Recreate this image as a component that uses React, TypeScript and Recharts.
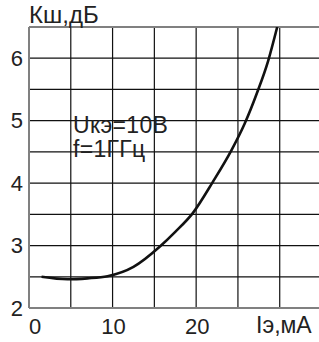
import { LineChart, Line, XAxis, YAxis, ReferenceLine } from "recharts";

// Iэ, мА
const CURRENT = [1.5, 4.6, 7.0, 9.4, 12.5, 15.7, 17.5, 19.6, 22.0, 24.2, 25.8, 27.3, 28.6, 29.7];
// Кш, дБ
const NOISE = [2.5, 2.46, 2.475, 2.51, 2.66, 2.99, 3.22, 3.52, 4.02, 4.52, 4.95, 5.45, 5.95, 6.5];

const X_TICKS = [0, 10, 20];
const Y_TICKS = [2, 3, 4, 5, 6];
const GRID_X = [5, 10, 15, 20, 25, 30];
const GRID_Y = [2.5, 3, 3.5, 4, 4.5, 5, 5.5, 6];

const data = CURRENT.map((x, i) => ({ x, y: NOISE[i] }));

const FONT = "'Liberation Sans', Arial, sans-serif";
const AXIS_GREY = "#808080";

const XTick = ({ x, y, payload }: any) => (
  <text x={x + (payload.value === 0 ? 6 : 1)} y={y} dy="0.71em" textAnchor="middle"
    fill="#222" style={{ fontSize: 22, fontFamily: FONT }}>
    {payload.value}
  </text>
);

export default function App() {
  return (
    <div style={{ position: "absolute", left: 0, top: 0, width: 319, height: 342, background: "#fff" }}>
      <LineChart width={319} height={342} data={data}
        margin={{ top: 27, right: 0, bottom: 0, left: 0 }}>
        <XAxis type="number" dataKey="x" domain={[0, 34.7]} ticks={X_TICKS}
          tickLine={false} tickMargin={4} tick={<XTick />}
          axisLine={{ stroke: AXIS_GREY, strokeWidth: 2 }} height={34} />
        <YAxis type="number" domain={[2, 6.5]} ticks={Y_TICKS} width={29}
          tickLine={false} tickMargin={0}
          tick={{ fill: "#222", fontSize: 22, fontFamily: FONT }}
          axisLine={{ stroke: AXIS_GREY, strokeWidth: 2 }} allowDataOverflow />
        {GRID_X.map((v) => (
          <ReferenceLine key={`gx-${v}`} x={v} stroke="#111" strokeWidth={1.2} />
        ))}
        {GRID_Y.map((v) => (
          <ReferenceLine key={`gy-${v}`} y={v} stroke="#111" strokeWidth={1.2} />
        ))}
        <ReferenceLine y={6.5} stroke={AXIS_GREY} strokeWidth={2} />
        <Line type="monotone" dataKey="y" stroke="#111" strokeWidth={2.6}
          dot={false} isAnimationActive={false} />
      </LineChart>
      <svg width={319} height={342} style={{ position: "absolute", left: 0, top: 0, pointerEvents: "none" }}>
        <g fill="#222" style={{ fontFamily: FONT }}>
          <text x={29} y={23} style={{ fontSize: 24 }}>Кш,дБ</text>
          <text x={256} y={333} style={{ fontSize: 23 }}>Iэ,мА</text>
          <text x={73} y={133} style={{ fontSize: 23, letterSpacing: 0.3 }}>Uкэ=10В</text>
          <text x={73} y={157} style={{ fontSize: 23, letterSpacing: 0.3 }}>f=1ГГц</text>
        </g>
      </svg>
    </div>
  );
}
